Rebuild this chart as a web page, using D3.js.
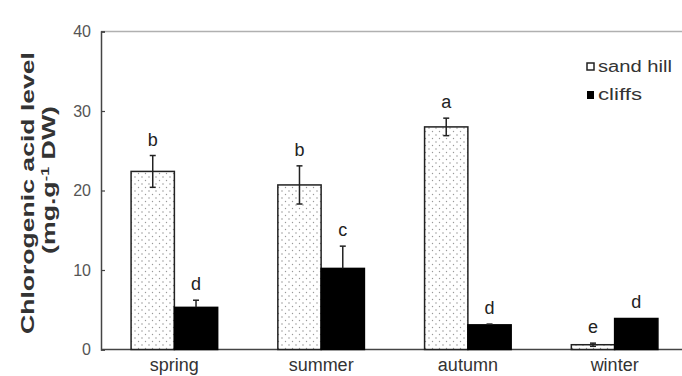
<!DOCTYPE html>
<html><head><meta charset="utf-8">
<script src="https://cdn.jsdelivr.net/npm/d3@7"></script>
<style>body{margin:0;background:#fff}svg{display:block}</style>
</head><body>
<script>
const seasons = ["spring","summer","autumn","winter"];
const sandHill = [22.4, 20.7, 28.0, 0.6];
const sandHillErr = [2.0, 2.4, 1.1, 0.2];
const sandHillLetters = ["b","b","a","e"];
const cliffs = [5.3, 10.2, 3.1, 3.9];
const cliffsErr = [0.9, 2.8, 0.1, 0.0];
const cliffsLetters = ["d","c","d","d"];
const yTicks = [0,10,20,30,40];

const W=682,H=376;
const FONT="Liberation Sans, Arial, sans-serif";
const svg=d3.select("body").append("svg").attr("width",W).attr("height",H);
const defs=svg.append("defs");
const pat=defs.append("pattern").attr("id","dots").attr("patternUnits","userSpaceOnUse").attr("width",7).attr("height",7);
pat.append("rect").attr("width",7).attr("height",7).attr("fill","#fff");
pat.append("circle").attr("cx",2).attr("cy",2).attr("r",0.7).attr("fill","#888");
pat.append("circle").attr("cx",5.5).attr("cy",5.5).attr("r",0.7).attr("fill","#999");

const x0=d3.scaleBand().domain(seasons).range([101,688]).paddingInner(0.41).paddingOuter(0.205);
const x1=d3.scaleBand().domain(["sand","cliffs"]).range([0,x0.bandwidth()]);
const y=d3.scaleLinear().domain([0,40]).range([349.5,31.5]);

svg.append("line").attr("x1",101).attr("x2",W).attr("y1",y(40)).attr("y2",y(40)).attr("stroke","#b0b0b0").attr("stroke-width",1.5);

const yAxis=d3.axisLeft(y).tickValues(yTicks).tickSize(-4).tickPadding(10);
const gy=svg.append("g").attr("transform","translate(101,0)").call(yAxis);
gy.select(".domain").attr("stroke","#444").attr("stroke-width",1.5);
gy.selectAll(".tick line").attr("stroke","#444").attr("stroke-width",1.2);
gy.selectAll("text").attr("font-family",FONT).attr("font-size",16).attr("fill","#555");

const xAxis=d3.axisBottom(x0).tickSize(0).tickPadding(0);
const gx=svg.append("g").attr("transform",`translate(0,${y(0)})`).call(xAxis);
gx.select(".domain").attr("d",`M101,0H${W}`).attr("stroke","#444").attr("stroke-width",1.5);
gx.selectAll("text").attr("dy",null).attr("y",21.5).attr("font-family",FONT).attr("font-size",18).attr("fill","#333");

const data=seasons.map((s,i)=>[
 {s,k:"sand",v:sandHill[i],e:sandHillErr[i],l:sandHillLetters[i]},
 {s,k:"cliffs",v:cliffs[i],e:cliffsErr[i],l:cliffsLetters[i]}]).flat();
const cx=d=>x0(d.s)+x1(d.k)+x1.bandwidth()/2;

const g=svg.append("g");
g.selectAll("rect.bar").data(data).join("rect")
 .attr("x",d=>x0(d.s)+x1(d.k)).attr("width",x1.bandwidth())
 .attr("y",d=>y(d.v)).attr("height",d=>y(0)-y(d.v))
 .attr("fill",d=>d.k==="sand"?"url(#dots)":"#000")
 .attr("stroke",d=>d.k==="sand"?"#222":"#000").attr("stroke-width",1.5);

const eb=g.selectAll("g.err").data(data.filter(d=>d.e>0)).join("g");
eb.append("line").attr("x1",cx).attr("x2",cx)
 .attr("y1",d=>y(d.v-(d.k==="sand"?d.e:0))).attr("y2",d=>y(d.v+d.e)).attr("stroke","#222").attr("stroke-width",1.5);
eb.append("line").attr("x1",d=>cx(d)-3).attr("x2",d=>cx(d)+3)
 .attr("y1",d=>y(d.v+d.e)).attr("y2",d=>y(d.v+d.e)).attr("stroke","#222").attr("stroke-width",1.5);
eb.filter(d=>d.k==="sand").append("line").attr("x1",d=>cx(d)-3).attr("x2",d=>cx(d)+3)
 .attr("y1",d=>y(d.v-d.e)).attr("y2",d=>y(d.v-d.e)).attr("stroke","#222").attr("stroke-width",1.5);

g.selectAll("text.lt").data(data).join("text")
 .attr("x",cx).attr("y",d=>y(d.v+d.e)-10)
 .attr("text-anchor","middle").attr("font-family",FONT).attr("font-size",18).attr("fill","#222")
 .text(d=>d.l);

// y label
svg.append("text").attr("transform","translate(34,193) rotate(-90)").attr("text-anchor","middle")
 .attr("font-family",FONT).attr("font-weight","bold").attr("font-size",18).attr("fill","#333")
 .attr("textLength",282).attr("lengthAdjust","spacingAndGlyphs")
 .text("Chlorogenic acid level");
const yl2=svg.append("text").attr("transform","translate(55,180) rotate(-90)").attr("text-anchor","middle")
 .attr("font-family",FONT).attr("font-weight","bold").attr("font-size",18).attr("fill","#333")
 .attr("textLength",148).attr("lengthAdjust","spacingAndGlyphs");
yl2.append("tspan").text("(mg.g");
yl2.append("tspan").attr("dy",-6).attr("font-size",11).text("-1");
yl2.append("tspan").attr("dy",6).text(" DW)");

// legend
const leg=svg.append("g");
leg.append("rect").attr("x",587).attr("y",63).attr("width",7).attr("height",7).attr("fill","#fff").attr("stroke","#222").attr("stroke-width",1.5);
leg.append("text").attr("x",598).attr("y",72).attr("font-family",FONT).attr("font-size",16).attr("fill","#333")
 .attr("textLength",74).attr("lengthAdjust","spacingAndGlyphs").text("sand hill");
leg.append("rect").attr("x",587).attr("y",91).attr("width",7).attr("height",8).attr("fill","#000");
leg.append("text").attr("x",598).attr("y",100).attr("font-family",FONT).attr("font-size",16).attr("fill","#333")
 .attr("textLength",44).attr("lengthAdjust","spacingAndGlyphs").text("cliffs");
</script>
</body></html>
